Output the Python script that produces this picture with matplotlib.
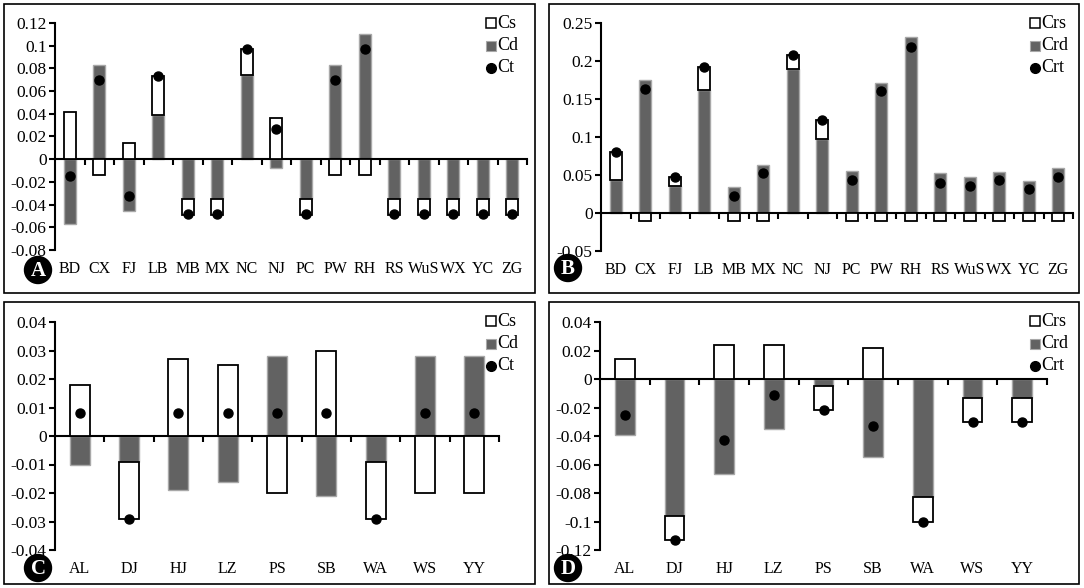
import numpy as np
import matplotlib
matplotlib.use("Agg")
import matplotlib.pyplot as plt
from matplotlib.patches import Rectangle, Circle
from matplotlib.transforms import offset_copy

plt.rcParams["font.family"] = ["Liberation Serif", "DejaVu Serif"]

# panels A/B: 16 sites
sites_ab = ["BD", "CX", "FJ", "LB", "MB", "MX", "NC", "NJ", "PC", "PW", "RH",
            "RS", "WuS", "WX", "YC", "ZG"]
a_cs = [0.042, -0.014, 0.014, 0.034, -0.014, -0.014, 0.023, 0.036, -0.014,
        -0.014, -0.014, -0.014, -0.014, -0.014, -0.014, -0.014]
a_cd = [-0.057, 0.083, -0.046, 0.039, -0.035, -0.035, 0.074, -0.008, -0.035,
        0.083, 0.110, -0.035, -0.035, -0.035, -0.035, -0.035]
a_ct = [-0.015, 0.070, -0.032, 0.073, -0.048, -0.048, 0.097, 0.027, -0.048,
        0.070, 0.097, -0.048, -0.048, -0.048, -0.048, -0.048]

b_crs = [0.037, -0.011, 0.012, 0.030, -0.011, -0.011, 0.019, 0.026, -0.011,
         -0.011, -0.011, -0.011, -0.011, -0.011, -0.011, -0.011]
b_crd = [0.043, 0.175, 0.035, 0.162, 0.034, 0.063, 0.189, 0.097, 0.055,
         0.171, 0.231, 0.052, 0.047, 0.054, 0.042, 0.059]
b_crt = [0.080, 0.163, 0.048, 0.192, 0.023, 0.052, 0.208, 0.123, 0.044,
         0.160, 0.219, 0.040, 0.035, 0.043, 0.031, 0.048]

# panels C/D: 9 sites
sites_cd = ["AL", "DJ", "HJ", "LZ", "PS", "SB", "WA", "WS", "YY"]
c_cs = [0.018, -0.020, 0.027, 0.025, -0.020, 0.030, -0.020, -0.020, -0.020]
c_cd = [-0.010, -0.009, -0.019, -0.016, 0.028, -0.021, -0.009, 0.028, 0.028]
c_ct = [0.008, -0.029, 0.008, 0.008, 0.008, 0.008, -0.029, 0.008, 0.008]

d_crs = [0.014, -0.017, 0.024, 0.024, -0.017, 0.022, -0.017, -0.017, -0.017]
d_crd = [-0.039, -0.096, -0.067, -0.035, -0.005, -0.055, -0.083, -0.013, -0.013]
d_crt = [-0.025, -0.113, -0.043, -0.011, -0.022, -0.033, -0.100, -0.030, -0.030]

W, H = 1084, 588
GRAY = "#626262"
GRAY_EDGE = "#a8a8a8"


def px_rect(l, t, r, b):
    return [l / W, 1 - b / H, (r - l) / W, (b - t) / H]


fig = plt.figure(figsize=(W / 100, H / 100), dpi=100)
# overlay in pixel coordinates for frames, letters and legends
ov = fig.add_axes([0, 0, 1, 1], zorder=5)
ov.set_xlim(0, W)
ov.set_ylim(H, 0)
ov.axis("off")
ov.patch.set_alpha(0)


def draw_panel(rect, box, letter, letter_xy, leg_xy, cats, s, d, t, names,
               ylim, yticks, ylabels):
    ax = fig.add_axes(px_rect(*rect))
    x = np.arange(len(cats))
    s = np.array(s)
    d = np.array(d)
    # s-component stacks on d when both have the same sign
    base = np.where(np.sign(s) == np.sign(d), d, 0.0)
    ax.bar(x, d, width=0.4, color=GRAY, edgecolor=GRAY_EDGE, linewidth=1.0,
           zorder=2)
    ax.bar(x, s, width=0.4, bottom=base, color="white", edgecolor="black",
           linewidth=1.3, zorder=3)
    ax.plot(x, t, "o", color="black", markersize=6.5, zorder=4)

    ax.set_xlim(-0.5, len(cats) - 0.5)
    ax.set_ylim(*ylim)
    ax.set_yticks(yticks)
    ax.set_yticklabels(ylabels, fontsize=12.5)
    ax.tick_params(axis="y", direction="out", length=4, width=1.5, pad=2)

    ax.patch.set_alpha(0)
    ax.spines["top"].set_visible(False)
    ax.spines["right"].set_visible(False)
    ax.spines["left"].set_linewidth(1.5)
    ax.spines["bottom"].set_position(("data", 0))
    ax.spines["bottom"].set_linewidth(1.5)
    ax.set_xticks([])
    ax.set_xticks(np.arange(len(cats)) + 0.5, minor=True)
    ax.tick_params(axis="x", which="minor", direction="out", length=4,
                   width=1.5, labelbottom=False)
    lab_tr = offset_copy(ax.get_xaxis_transform(), fig=fig, y=-19,
                         units="dots")
    for xi, c in zip(x, cats):
        ax.text(xi, 0, c, transform=lab_tr, ha="center", va="center",
                fontsize=11.5)

    # frame around the panel
    l, tp, r, b = box
    ov.add_patch(Rectangle((l, tp), r - l, b - tp, fill=False,
                           edgecolor="black", linewidth=1.2))
    # circled panel letter
    cx, cy = letter_xy
    ov.add_patch(Circle((cx, cy), 13.5, color="black"))
    ov.text(cx, cy + 1, letter, color="white", fontsize=15, fontweight="bold",
            ha="center", va="center")

    # legend
    lx, ly = leg_xy
    styles = [dict(marker="s", markerfacecolor="white", markeredgecolor="black",
                   markersize=6.5, markeredgewidth=1.1),
              dict(marker="s", markerfacecolor=GRAY, markeredgecolor=GRAY_EDGE,
                   markersize=6.5, markeredgewidth=0.8),
              dict(marker="o", markerfacecolor="black",
                   markeredgecolor="black", markersize=7)]
    for i, (nm, st) in enumerate(zip(names, styles)):
        yy = ly + i * 22.5
        ov.plot([lx], [yy], ls="none", **st)
        ov.text(lx + 6, yy, nm, ha="left", va="center", fontsize=13)
    return ax


draw_panel((55, 23, 527, 250), (4, 4, 535, 293), "A", (38, 270), (491, 23),
           sites_ab, a_cs, a_cd, a_ct, ["Cs", "Cd", "Ct"], (-0.08, 0.12),
           np.arange(-0.08, 0.121, 0.02),
           ["-0.08", "-0.06", "-0.04", "-0.02", "0", "0.02", "0.04", "0.06",
            "0.08", "0.1", "0.12"])
draw_panel((601, 23, 1073, 251), (549, 4, 1079, 293), "B", (568, 268),
           (1035, 23),
           sites_ab, b_crs, b_crd, b_crt, ["Crs", "Crd", "Crt"], (-0.05, 0.25),
           np.arange(-0.05, 0.251, 0.05),
           ["-0.05", "0", "0.05", "0.1", "0.15", "0.2", "0.25"])
draw_panel((55, 322, 499, 550), (4, 302, 535, 584), "C", (38, 568),
           (491, 321),
           sites_cd, c_cs, c_cd, c_ct, ["Cs", "Cd", "Ct"], (-0.04, 0.04),
           np.arange(-0.04, 0.041, 0.01),
           ["-0.04", "-0.03", "-0.02", "-0.01", "0", "0.01", "0.02", "0.03",
            "0.04"])
draw_panel((600, 322, 1047, 550), (549, 302, 1079, 584), "D", (568, 568),
           (1035, 321),
           sites_cd, d_crs, d_crd, d_crt, ["Crs", "Crd", "Crt"], (-0.12, 0.04),
           np.arange(-0.12, 0.041, 0.02),
           ["-0.12", "-0.1", "-0.08", "-0.06", "-0.04", "-0.02", "0", "0.02",
            "0.04"])

fig.savefig("out.png", dpi=100)
